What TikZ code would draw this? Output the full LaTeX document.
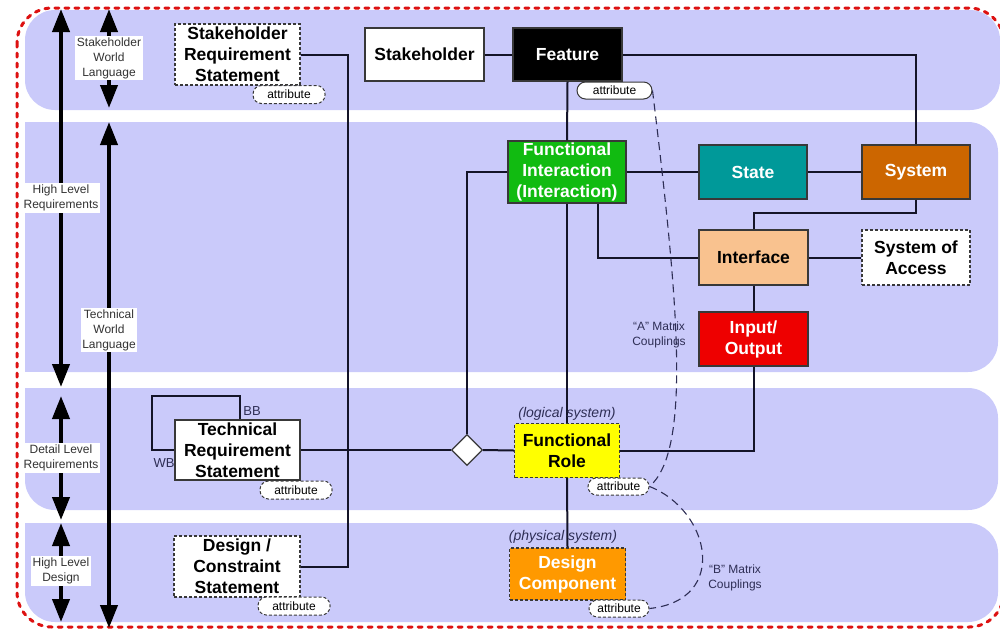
\documentclass[tikz,border=0pt]{standalone}
\usepackage{fontspec}
\setmainfont{Liberation Sans}
\usetikzlibrary{arrows.meta,shapes.geometric}
\definecolor{band}{HTML}{CACAFA}
\definecolor{redb}{HTML}{DD1111}
\definecolor{boxc}{HTML}{383838}
\definecolor{linec}{HTML}{141428}
\definecolor{lblc}{HTML}{333333}
\definecolor{navy}{HTML}{2E2E55}
\definecolor{fgreen}{HTML}{11BB11}
\definecolor{fteal}{HTML}{009999}
\definecolor{fsys}{HTML}{CC6600}
\definecolor{fintf}{HTML}{F9C28F}
\definecolor{fio}{HTML}{EE0000}
\definecolor{fyel}{HTML}{FFFF00}
\definecolor{fdc}{HTML}{FF9900}
\tikzset{
  box/.style={draw=boxc, line width=1.2pt, inner sep=0pt, align=center,
    font=\bfseries\fontsize{17.5}{21}\selectfont},
  dbox/.style={box, dash pattern=on 3pt off 2pt},
  attr/.style={draw=boxc, fill=white, rounded corners=8.5pt, line width=1pt,
    dash pattern=on 3pt off 2pt, inner sep=0pt, minimum height=18pt,
    font=\fontsize{12}{14}\selectfont},
  sattr/.style={attr, solid},
  sidelbl/.style={fill=white, inner sep=1.5pt, align=center, text=lblc,
    font=\fontsize{12}{15}\selectfont},
  conn/.style={draw=linec, line width=2pt},
  coup/.style={draw=navy, line width=1.1pt, dash pattern=on 8pt off 5pt},
  bigarrow/.style={line width=4pt, {Triangle[width=17pt,length=23pt]}-{Triangle[width=17pt,length=23pt]}},
  italbl/.style={text=navy, font=\itshape\fontsize{14}{16}\selectfont, inner sep=0pt},
  smlbl/.style={text=navy, align=center, inner sep=0pt, font=\fontsize{12}{15}\selectfont}
}
\begin{document}
\begin{tikzpicture}[x=1pt,y=-1pt]
\useasboundingbox (0,0) rectangle (1000,630);
% bands
\fill[band,rounded corners=30pt] (25,10) rectangle (1000,110);
\fill[band,rounded corners=30pt] (25,122) rectangle (998,372);
\fill[band] (25,122) rectangle (80,372);
\fill[band,rounded corners=30pt] (25,388) rectangle (998,510);
\fill[band] (25,388) rectangle (80,450);
\fill[band,rounded corners=30pt] (25,523) rectangle (998,622);
\fill[band] (25,523) rectangle (80,570);
% red border
\draw[redb, line width=3pt, dash pattern=on 4pt off 6pt, line cap=round, rounded corners=35pt] (17,8) rectangle (1004,627);

% side arrows
\coordinate (a1t) at (61,9);   \coordinate (a1b) at (61,387);
\coordinate (a2t) at (61,396); \coordinate (a2b) at (61,520);
\coordinate (a3t) at (61,523); \coordinate (a3b) at (61,622);
\coordinate (b1t) at (109,9);  \coordinate (b1b) at (109,108);
\coordinate (b2t) at (109,122);\coordinate (b2b) at (109,628);
\draw[bigarrow] (a1t) -- (a1b);
\draw[bigarrow] (a2t) -- (a2b);
\draw[bigarrow] (a3t) -- (a3b);
\draw[bigarrow] (b1t) -- (b1b);
\draw[bigarrow] (b2t) -- (b2b);
\node[sidelbl] (lswl) at (109,58) {Stakeholder\\World\\Language};
\node[sidelbl] (lhlr) at (61,198) {High Level\\Requirements};
\node[sidelbl] (ltwl) at (109,330) {Technical\\World\\Language};
\node[sidelbl] (ldlr) at (61,458) {Detail Level\\Requirements};
\node[sidelbl] (lhld) at (61,571) {High Level\\Design};

% nodes
\node[dbox, fill=white, minimum width=125pt, minimum height=61pt] (srs) at (237.5,54.5) {Stakeholder\\Requirement\\Statement};
\node[box, fill=white, minimum width=119pt, minimum height=53pt] (stk) at (424.5,54.5) {Stakeholder};
\node[box, fill=black, text=white, minimum width=109pt, minimum height=53pt] (feat) at (567.5,54.5) {Feature};
\node[box, fill=fgreen, text=white, minimum width=118pt, minimum height=62pt] (fi) at (567,172) {Functional\\Interaction\\(Interaction)};
\node[box, fill=fteal, text=white, minimum width=108pt, minimum height=54pt] (state) at (753,172) {State};
\node[box, fill=fsys, text=white, minimum width=108pt, minimum height=54pt] (sys) at (916,172) {System};
\node[box, fill=fintf, minimum width=109pt, minimum height=55pt] (intf) at (753.5,257.5) {Interface};
\node[dbox, fill=white, minimum width=108pt, minimum height=55pt] (soa) at (916,257.5) {System of\\Access};
\node[box, fill=fio, text=white, minimum width=109pt, minimum height=54pt] (io) at (753.5,339) {Input/\\Output};
\node[dbox, fill=fyel, minimum width=105pt, minimum height=54pt] (fr) at (567,450.5) {Functional\\Role};
\node[dbox, fill=fdc, text=white, minimum width=116pt, minimum height=52pt] (dc) at (567.5,574) {Design\\Component};
\node[box, fill=white, minimum width=125pt, minimum height=60pt] (trs) at (237.5,450) {Technical\\Requirement\\Statement};
\node[dbox, fill=white, minimum width=126pt, minimum height=61pt] (dcs) at (237,566.5) {Design /\\Constraint\\Statement};
\node[diamond, draw=boxc, fill=white, line width=1.2pt, inner sep=0pt, minimum width=31pt, minimum height=31pt] (dia) at (467,450) {};

% connectors
\coordinate (vx) at (348,0);
\draw[conn] (srs.east) -| (vx |- dcs.east) -- (dcs.east);
\draw[conn] (stk.east) -- (feat.west);
\draw[conn] (feat.east) -| (sys.north);
\draw[conn] (feat.south) -- (fi.north);
\draw[conn] (fi.east) -- (state.west);
\draw[conn] (state.east) -- (sys.west);
\coordinate (k1) at (916,213);
\draw[conn] (sys.south) -- (k1) -- (intf.north |- k1) -- (intf.north);
\coordinate (k2) at (598,0);
\draw[conn] (fi.south -| k2) |- (intf.west);
\draw[conn] (intf.east) -- (soa.west);
\draw[conn] (intf.south) -- (io.north);
\draw[conn] (io.south) |- (fr.east);
\draw[conn] (fi.west) -| (dia.north);
\draw[conn] (fi.south) -- (fr.north);
\draw[conn] (dia.east) -- (fr.west);
\draw[conn] (trs.east) -- (dia.west);
\draw[conn] (fr.south) -- (dc.north);
\coordinate (l1) at (240,396);
\coordinate (l2) at (152,396);
\draw[conn] (trs.north -| l1) -- (l1) -- (l2) |- (trs.west);
\node[text=navy, inner sep=0pt, font=\fontsize{13}{15}\selectfont] (bb) at (252,411) {BB};
\node[text=navy, inner sep=0pt, font=\fontsize{13}{15}\selectfont] (wb) at (164,463) {WB};

% attributes
\node[attr, minimum width=72pt] (srsA) at (289,94.5) {attribute};
\node[sattr, minimum width=75pt, minimum height=17pt] (featA) at (614.5,90.5) {attribute};
\node[attr, minimum width=61pt, minimum height=17pt] (frA) at (618.5,486.5) {attribute};
\node[attr, minimum width=60pt, minimum height=17pt] (dcA) at (619,608.5) {attribute};
\node[attr, minimum width=72pt] (trsA) at (296,490) {attribute};
\node[attr, minimum width=72pt] (dcsA) at (294,606) {attribute};

% couplings
\draw[coup] (featA.east) .. controls (678,300) and (692,450) .. (frA.east);
\draw[coup] (frA.east) .. controls (710,510) and (730,600) .. (dcA.east);
\node[smlbl] (am) at (659,335) {“A” Matrix\\Couplings};
\node[smlbl] (bm) at (735,578) {“B” Matrix\\Couplings};

\node[italbl] (logl) at (567,414) {(logical system)};
\node[italbl] (phyl) at (563,537) {(physical system)};
\end{tikzpicture}
\end{document}
